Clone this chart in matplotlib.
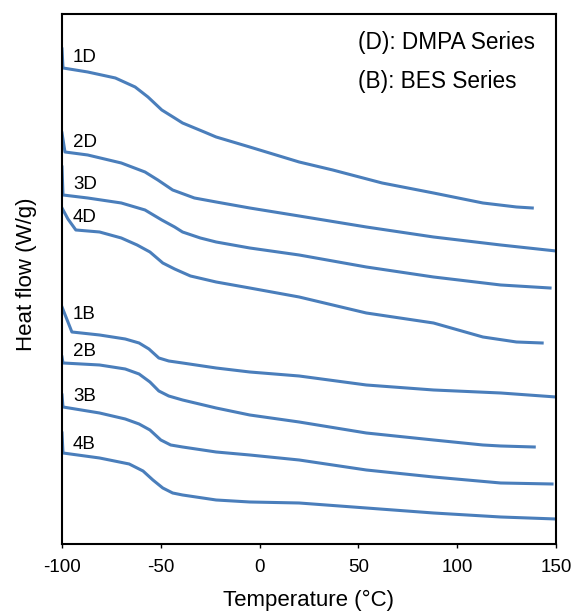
import matplotlib
matplotlib.use("Agg")
import matplotlib.pyplot as plt

plt.rcParams['font.family'] = ['Liberation Sans', 'DejaVu Sans']
plt.rcParams['axes.unicode_minus'] = False

# DSC traces: temperature (C) and heat flow (arbitrary, offset per sample)
t_1d = [-100, -99.5, -87, -73, -63, -56.5, -49.5, -43, -39, -28, -22, -5, 20, 37, 62, 88, 113, 130, 138]
h_1d = [495, 476, 472, 466, 457, 447, 434, 426, 421, 412, 407, 397, 382, 374, 361, 351, 341, 337, 336]

t_2d = [-100, -98.5, -87, -70, -58, -51.5, -44, -33, -22, -5, 20, 54, 88, 122, 150]
h_2d = [411, 392, 389, 381, 372, 364, 354, 346, 342, 336, 328, 317, 307, 299, 293]

t_3d = [-100, -99.5, -87, -70, -58, -49.5, -43, -39, -30, -22, -5, 20, 54, 88, 122, 147]
h_3d = [377, 349, 346, 341, 334, 324, 317, 312, 306, 302, 296, 289, 277, 267, 259, 256]

t_4d = [-100, -97, -93, -81, -70, -62, -55.5, -49, -43, -35, -22, -5, 20, 54, 88, 113, 130, 143]
h_4d = [336, 325, 314, 312, 306, 299, 292, 281, 275, 268, 262, 256, 247, 231, 221, 207, 202, 201]

t_1b = [-100, -95, -81, -68, -61, -56, -51, -46, -39, -22, -5, 20, 54, 88, 122, 150]
h_1b = [237, 212, 209, 205, 201, 195, 186, 183, 181, 176, 172, 168, 159, 154, 151, 147]

t_2b = [-100, -99.5, -81, -68, -61, -55.5, -51, -46, -39, -22, -5, 20, 54, 88, 113, 122, 139]
h_2b = [187, 181, 179, 175, 170, 162, 153, 148, 144, 136, 129, 122, 111, 104, 99, 98, 97]

t_3b = [-100, -99.5, -81, -68, -61, -55.5, -50, -45, -39, -22, -5, 20, 54, 88, 122, 148]
h_3b = [149, 137, 131, 125, 120, 114, 104, 99, 97, 92, 89, 84, 74, 67, 61, 60]

t_4b = [-100, -99.5, -81, -66, -59, -54, -49, -44, -39, -22, -5, 20, 54, 88, 122, 150]
h_4b = [111, 91, 86, 80, 73, 64, 56, 51, 49, 44, 42, 41, 36, 31, 27, 25]

names = ['1D', '2D', '3D', '4D', '1B', '2B', '3B', '4B']
temps = [t_1d, t_2d, t_3d, t_4d, t_1b, t_2b, t_3b, t_4b]
flows = [h_1d, h_2d, h_3d, h_4d, h_1b, h_2b, h_3b, h_4b]
label_y = [486, 401, 359, 326, 229, 192, 147, 99]

fig = plt.figure(figsize=(5.72, 6.16), dpi=100)
ax = fig.add_axes([0.1084, 0.1169, 0.8636, 0.8604])

for name, t, h, ly in zip(names, temps, flows, label_y):
    ax.plot(t, h, color='#4a7ebb', linewidth=2.2, solid_joinstyle='round')
    ax.text(-94.5, ly, name, fontsize=13.5, va='center', ha='left')

ax.text(50, 501, '(D): DMPA Series', fontsize=16.3, va='center', ha='left')
ax.text(50, 462, '(B): BES Series', fontsize=16.3, va='center', ha='left')

ax.set_xlim(-100, 150)
ax.set_ylim(0, 530)
ax.set_xticks([-100, -50, 0, 50, 100, 150])
ax.set_yticks([])
ax.tick_params(axis='x', labelsize=13.5, length=3, width=1, pad=8)
for s in ax.spines.values():
    s.set_linewidth(1.5)

ax.set_xlabel('Temperature (\u00b0C)', fontsize=16)
ax.set_ylabel('Heat flow (W/g)', fontsize=16)
ax.xaxis.set_label_coords(0.5, -0.087)
ax.yaxis.set_label_coords(-0.05, 0.509)

fig.savefig('out.png', dpi=100)
